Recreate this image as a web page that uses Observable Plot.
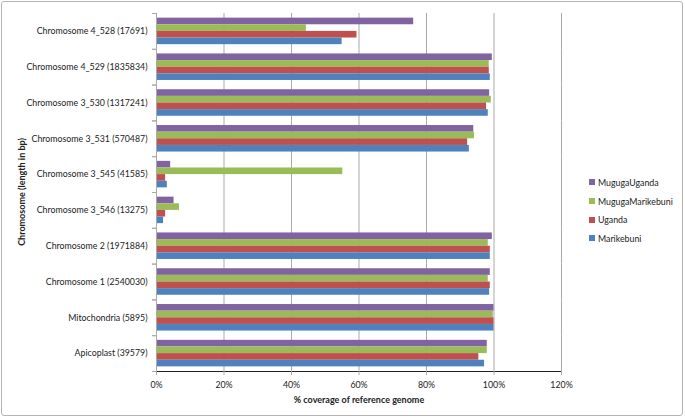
<!DOCTYPE html>
<html>
<head>
<meta charset="utf-8">
<script src="https://cdn.jsdelivr.net/npm/d3@7"></script>
<script src="https://cdn.jsdelivr.net/npm/@observablehq/plot@0.6"></script>
<style>
  body { margin: 0; background: #fff; }
  #wrap { position: relative; width: 685px; height: 418px; font-family: Lato, "Liberation Sans", sans-serif; color: #222; }
  #border { position: absolute; left: 1px; top: 1px; width: 680px; height: 413px; border: 1px solid #b4b4b4; border-radius: 3px; pointer-events: none; }
  #chart { position: absolute; left: 0; top: 0; }
  .lab { position: absolute; font-size: 9px; font-weight: bold; white-space: nowrap; }
  #ytitle { left: 21px; top: 192px; transform: translate(-50%, -50%) rotate(-90deg); }
  #xtitle { left: 359px; top: 399px; transform: translate(-50%, -50%); }
  #legend { position: absolute; left: 589px; top: 173px; font-size: 8.8px; }
  .item { display: flex; align-items: center; height: 18.7px; }
  .sw { width: 6px; height: 6px; margin-right: 3px; }
</style>
</head>
<body>
<div id="wrap">
  <div id="chart"></div>
  <div class="lab" id="ytitle">Chromosome (length in bp)</div>
  <div class="lab" id="xtitle">% coverage of reference genome</div>
  <div id="legend"></div>
  <div id="border"></div>
</div>
<script>
const categories = [
  "Chromosome 4_528 (17691)",
  "Chromosome 4_529 (1835834)",
  "Chromosome 3_530 (1317241)",
  "Chromosome 3_531 (570487)",
  "Chromosome 3_545 (41585)",
  "Chromosome 3_546 (13275)",
  "Chromosome 2 (1971884)",
  "Chromosome 1 (2540030)",
  "Mitochondria (5895)",
  "Apicoplast (39579)"
];
const seriesNames = ["MugugaUganda", "MugugaMarikebuni", "Uganda", "Marikebuni"];
const seriesColors = ["#8064A2", "#9BBB59", "#C0504D", "#4F81BD"];
const mugugaUganda     = [76.2, 99.5, 98.7, 94.0, 4.2, 5.2, 99.5, 98.9, 100, 98.0];
const mugugaMarikebuni = [44.4, 98.6, 99.2, 94.2, 55.2, 6.8, 98.3, 98.3, 99.8, 98.0];
const uganda           = [59.4, 98.6, 97.8, 92.2, 2.7, 2.7, 98.9, 98.9, 100, 95.5];
const marikebuni       = [55.0, 98.9, 98.3, 92.7, 3.2, 2.1, 98.9, 98.7, 100, 97.2];
const xTicks = [0, 20, 40, 60, 80, 100, 120];

const seriesValues = [mugugaUganda, mugugaMarikebuni, uganda, marikebuni];
const data = [];
categories.forEach((c, i) => {
  seriesNames.forEach((s, j) => data.push({cat: c, series: s, value: seriesValues[j][i]}));
});

const grid = "#a9a9a9";
const plot = Plot.plot({
  width: 685,
  height: 418,
  marginLeft: 156,
  marginRight: 124,
  marginTop: 13,
  marginBottom: 47,
  style: {fontFamily: "Lato, 'Liberation Sans', sans-serif", fontSize: "8.8px", color: "#222", background: "transparent"},
  x: {domain: [0, 120], ticks: xTicks, tickFormat: d => d + "%", label: null, tickSize: 4, tickPadding: 6, line: true},
  y: {domain: seriesNames, axis: null, paddingInner: 0, paddingOuter: 0.7, round: false},
  fy: {domain: categories, padding: 0, label: null, tickSize: 0, tickPadding: 9, round: false},
  color: {domain: seriesNames, range: seriesColors},
  marks: [
    Plot.ruleX(xTicks.slice(1), {stroke: grid}),
    Plot.barX(data, {fy: "cat", y: "series", x: "value", fill: "series"}),
    Plot.ruleX([0], {stroke: grid}),
    Plot.frame({anchor: "top", insetLeft: -4, insetRight: 405, stroke: grid}),
    Plot.frame({anchor: "bottom", insetLeft: -4, insetRight: 405, stroke: grid})
  ]
});
document.getElementById("chart").appendChild(plot);
plot.querySelectorAll("[aria-label^='x-axis'] path, [aria-label^='x-axis'] line").forEach(e => e.setAttribute("stroke", grid));

const legend = document.getElementById("legend");
seriesNames.forEach((s, j) => {
  const it = document.createElement("div");
  it.className = "item";
  it.innerHTML = `<span class="sw" style="background:${seriesColors[j]}"></span><span>${s}</span>`;
  legend.appendChild(it);
});
</script>
</body>
</html>
